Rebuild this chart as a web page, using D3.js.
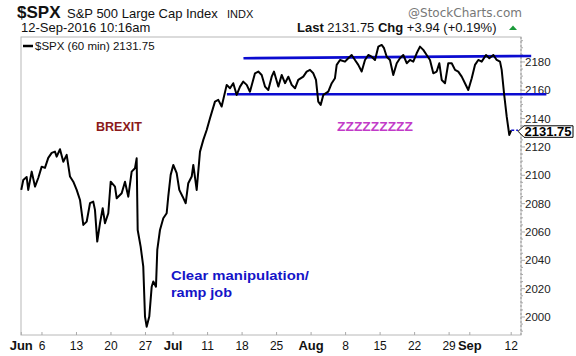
<!DOCTYPE html>
<html><head><meta charset="utf-8">
<script src="https://cdn.jsdelivr.net/npm/d3@7"></script>
<style>html,body{margin:0;padding:0;background:#fff;}svg{display:block;font-family:Arial,"Liberation Sans",sans-serif;}</style>
</head><body><svg id="c" width="576" height="356"></svg>
<script>
// trading-day index (Jun 1 2016 = 0) and hourly-ish S&P 500 values
const priceDays = [0,0.29,0.78,1.01,1.51,1.99,2.46,2.96,3.43,3.91,4.41,4.88,5.13,5.61,6.09,6.58,7.06,7.54,8.03,8.51,8.99,9.48,9.96,10.43,10.68,11.01,11.41,11.8,12.13,12.61,12.96,13.58,13.83,14.55,15.03,15.51,16.0,16.48,16.72,16.87,17.3,17.68,17.93,18.17,18.55,18.9,19.13,19.52,19.71,20.1,20.58,21.07,21.3,21.65,22.03,22.52,22.9,23.39,23.83,24.2,24.7,24.93,25.42,25.9,26.38,26.87,27.35,28.07,28.55,29.04,29.77,30.25,30.72,31.22,31.7,32.17,32.67,33.14,33.87,34.35,34.84,35.32,35.8,36.29,36.62,37.25,37.74,38.22,38.7,39.19,39.67,40.14,40.87,41.36,41.84,42.32,42.71,43.04,43.39,43.77,44.49,44.99,45.46,45.71,46.19,46.91,47.39,47.88,48.36,48.84,49.33,49.81,50.29,50.78,51.26,51.74,52.23,52.57,52.96,53.43,53.91,54.41,54.88,55.36,55.86,56.33,56.81,57.3,57.78,58.26,58.75,59.23,59.71,60.2,60.58,60.93,61.41,61.88,62.38,62.86,63.33,63.83,64.3,64.78,65.28,65.75,66.23,66.72,67.35,67.83,68.41,68.9,69.38,69.62,69.96,70.35,70.72,71.0];
const priceValues = [2089.7,2096.7,2098.8,2089.7,2102.6,2092.0,2098.1,2106.1,2105.2,2112.3,2115.8,2116.7,2113.2,2118.4,2109.6,2114.4,2099.1,2095.5,2089.7,2082.6,2065.0,2067.3,2080.3,2081.4,2075.6,2053.2,2066.2,2076.8,2066.2,2073.2,2095.5,2092.0,2083.8,2087.3,2095.5,2084.9,2102.6,2105.0,2112.0,2061.4,2049.7,2035.5,2000.3,1993.2,2000.3,2021.4,2025.0,2021.4,2047.3,2061.4,2069.7,2073.2,2084.9,2100.3,2107.3,2101.5,2089.7,2084.9,2080.3,2094.4,2099.1,2107.3,2089.7,2116.7,2125.0,2132.0,2140.3,2152.0,2153.2,2148.5,2163.8,2161.4,2165.0,2156.7,2162.6,2166.1,2163.8,2159.0,2172.0,2173.2,2170.8,2162.6,2160.2,2169.6,2173.2,2162.6,2170.8,2165.0,2169.6,2163.8,2161.4,2167.3,2169.6,2173.2,2174.4,2172.0,2167.3,2152.0,2149.7,2156.7,2159.0,2165.0,2168.5,2177.9,2181.4,2180.2,2182.6,2184.9,2181.4,2177.9,2173.2,2181.4,2184.9,2183.7,2181.4,2190.8,2192.0,2189.7,2183.7,2181.4,2170.8,2179.1,2182.6,2184.9,2179.1,2181.4,2180.2,2186.1,2190.8,2188.5,2184.9,2181.4,2172.0,2173.2,2179.1,2167.3,2165.0,2179.1,2179.1,2174.4,2173.2,2169.6,2165.0,2160.2,2168.5,2177.9,2181.4,2180.2,2184.9,2182.6,2184.9,2181.4,2180.2,2174.4,2157.9,2141.4,2128.5,2131.75];
const lastPrice = 2131.75;
const resistanceDays = [32.2, 73.9];
const resistanceValues = [2182.6, 2184.2];
const supportDays = [29.8, 76.1];
const supportValues = [2157.2, 2157.2];
const xTickDays = [0,3,8,13,18,22,27,32,37,42,47,52,57,62,65,71];
const xTickLabels = ["Jun","6","13","20","27","Jul","11","18","25","Aug","8","15","22","29","Sep","12"];
const monthLabels = ["Jun","Jul","Aug","Sep"];
const yTicks = [2000,2020,2040,2060,2080,2100,2120,2140,2160,2180];

const svg = d3.select("#c");
const L = 21, R = 521, T = 37, B = 335;
const x = d3.scaleLinear().domain([-0.04, 72.42]).range([L, R]);
const y = d3.scaleLinear().domain([1987.3, 2197.6]).range([B, T]);

// header
svg.append("text").attr("x",17).attr("y",18).attr("font-size",17).attr("font-weight","bold").attr("fill","#111").text("$SPX");
svg.append("text").attr("x",67).attr("y",18).attr("font-size",13).attr("fill","#111").text("S&P 500 Large Cap Index");
svg.append("text").attr("x",227).attr("y",17.5).attr("font-size",11).attr("fill","#111").text("INDX");
svg.append("text").attr("x",21).attr("y",32).attr("font-size",13).attr("fill","#111").text("12-Sep-2016 10:16am");
svg.append("text").attr("x",408).attr("y",17).attr("font-size",12.5).attr("fill","#777")
  .attr("font-family","'DejaVu Sans',sans-serif").attr("textLength",114).attr("lengthAdjust","spacingAndGlyphs").text("@StockCharts.com");
const hdr = svg.append("text").attr("x",297).attr("y",32).attr("font-size",13).attr("fill","#111");
hdr.append("tspan").attr("font-weight","bold").text("Last");
hdr.append("tspan").text(" 2131.75  ");
hdr.append("tspan").attr("font-weight","bold").text("Chg");
hdr.append("tspan").text(" +3.94 (+0.19%)");
svg.append("path").attr("d","M509,30 L513,25.5 L517,30 Z").attr("fill","#1a9a3a");

// frame
svg.append("rect").attr("x",L).attr("y",T).attr("width",R-L).attr("height",B-T)
  .attr("fill","none").attr("stroke","#b8b8b8").attr("stroke-width",1);
svg.append("line").attr("x1",R).attr("x2",R).attr("y1",T).attr("y2",B)
  .attr("stroke","#9a9a9a").attr("stroke-dasharray","2,2");

// y axis (right)
const ya = svg.append("g");
d3.range(1990, 2200, 5).forEach(v=>{
  if (y(v) < T || y(v) > B) return;
  ya.append("line").attr("x1",R).attr("x2",R+(v%20===0?4:2)).attr("y1",y(v)).attr("y2",y(v)).attr("stroke","#aaa");
});
ya.selectAll("text.yl").data(yTicks).enter().append("text").attr("class","yl")
  .attr("x",525).attr("y",d=>y(d)+4).attr("font-size",11.5).attr("fill","#222").text(d=>d);

// x axis
const xa = svg.append("g");
xTickDays.forEach((d,i)=>{
  xa.append("line").attr("x1",x(d)).attr("x2",x(d)).attr("y1",B).attr("y2",B-3).attr("stroke","#aaa");
  const isM = monthLabels.includes(xTickLabels[i]);
  xa.append("text").attr("x",x(d)).attr("y",350).attr("text-anchor","middle")
    .attr("font-size",isM?13:12).attr("font-weight",isM?"bold":"normal").attr("fill","#111").text(xTickLabels[i]);
});

// legend
svg.append("line").attr("x1",23).attr("x2",33).attr("y1",46).attr("y2",46).attr("stroke","#000").attr("stroke-width",2.5);
svg.append("text").attr("x",35).attr("y",50).attr("font-size",11.5).attr("fill","#111").text("$SPX (60 min) 2131.75");

// trend lines
const pts = d3.range(Math.min(priceDays.length, priceValues.length)).map(i=>[priceDays[i], priceValues[i]]);
const line = d3.line().x(d=>x(d[0])).y(d=>y(d[1]));
svg.append("path").datum(d3.zip(resistanceDays, resistanceValues)).attr("d",line)
  .attr("fill","none").attr("stroke","#0b0bd0").attr("stroke-width",2.6);
svg.append("path").datum(d3.zip(supportDays, supportValues)).attr("d",line)
  .attr("fill","none").attr("stroke","#0b0bd0").attr("stroke-width",2.6);

// price line
svg.append("path").datum(pts).attr("d",line).attr("fill","none").attr("stroke","#000")
  .attr("stroke-width",2).attr("stroke-linejoin","round");

// last price marker
const last = pts[pts.length-1];
const ly = y(lastPrice);
svg.append("line").attr("x1",x(last[0])).attr("x2",518).attr("y1",ly).attr("y2",ly)
  .attr("stroke","#0b0bd0").attr("stroke-width",1.5).attr("stroke-dasharray","3,2");
svg.append("path").attr("d",`M518,${ly+1} L524,${ly-4.5} L573,${ly-4.5} L573,${ly+7} L524,${ly+7} Z`)
  .attr("fill","#fff").attr("stroke","#000").attr("stroke-width",1);
svg.append("text").attr("x",524.5).attr("y",ly+5.5).attr("font-size",12.5).attr("font-weight","bold")
  .attr("textLength",47).attr("lengthAdjust","spacingAndGlyphs").attr("fill","#000").text("2131.75");

// annotations
svg.append("text").attr("x",96).attr("y",131).attr("font-size",12).attr("font-weight","bold")
  .attr("fill","#8b1a1a").attr("textLength",46).attr("lengthAdjust","spacingAndGlyphs").text("BREXIT");
svg.append("text").attr("x",337).attr("y",130.5).attr("font-size",12).attr("font-weight","bold")
  .attr("fill","#c23bc8").attr("textLength",76).attr("lengthAdjust","spacingAndGlyphs").text("ZZZZZZZZZ");
svg.append("text").attr("x",171).attr("y",280).attr("font-size",13).attr("font-weight","bold")
  .attr("fill","#1414c8").attr("textLength",138).attr("lengthAdjust","spacingAndGlyphs").text("Clear manipulation/");
svg.append("text").attr("x",171).attr("y",297).attr("font-size",13).attr("font-weight","bold")
  .attr("fill","#1414c8").attr("textLength",61).attr("lengthAdjust","spacingAndGlyphs").text("ramp job");
</script></body></html>
